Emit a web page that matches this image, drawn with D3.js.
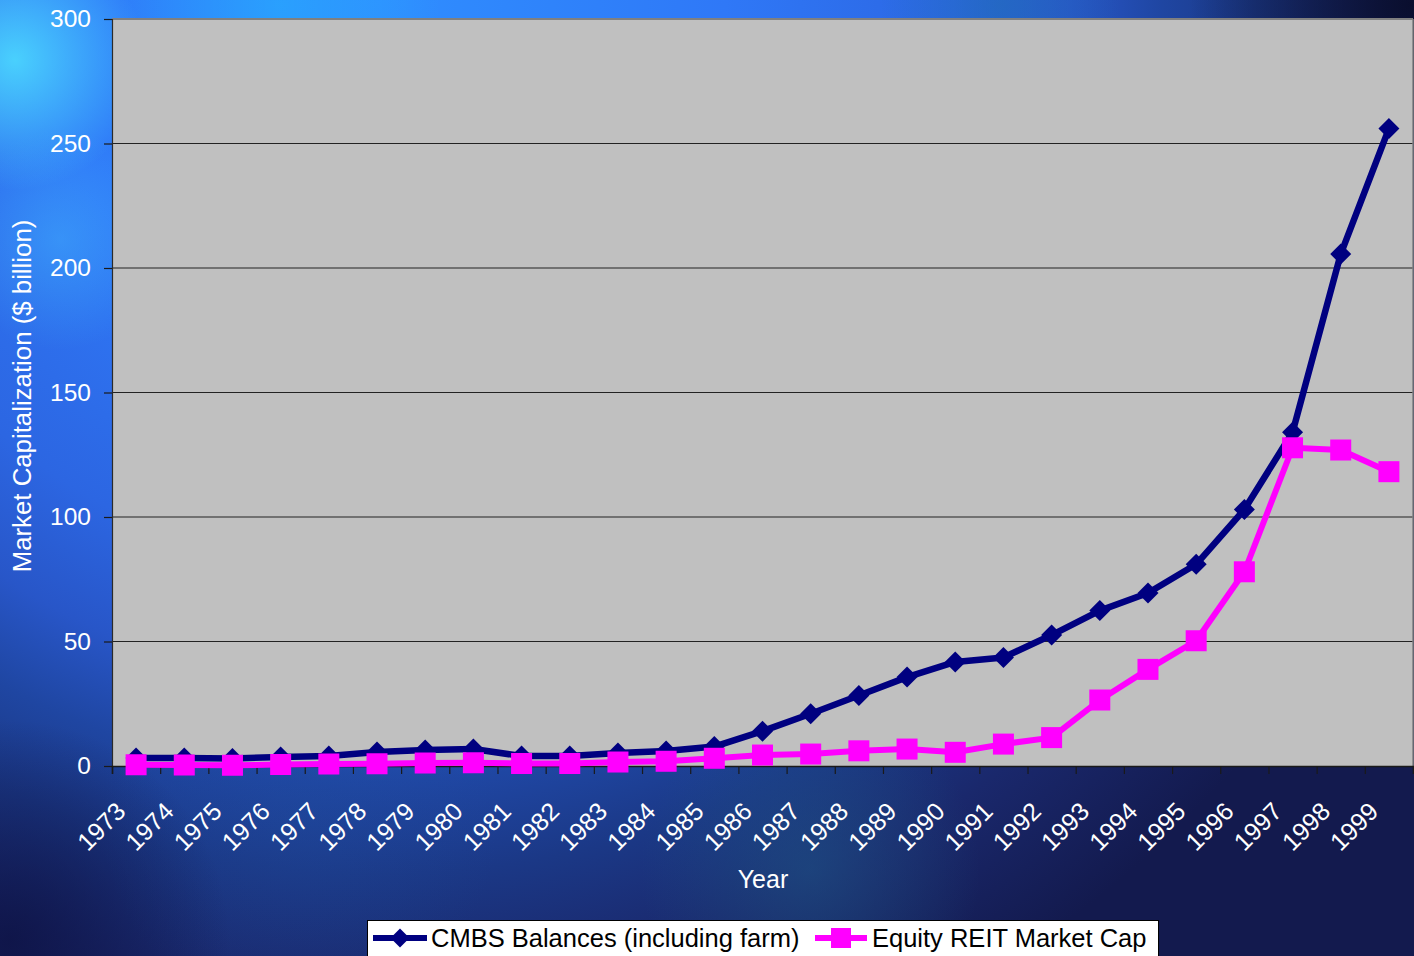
<!DOCTYPE html>
<html>
<head>
<meta charset="utf-8">
<script src="https://cdn.jsdelivr.net/npm/d3@7"></script>
<style>
  html, body { margin: 0; padding: 0; background: #10164a; }
  svg { display: block; }
  text { font-family: "Liberation Sans", Arial, sans-serif; }
</style>
</head>
<body>
<svg id="chart" width="1414" height="956"></svg>
<script>
// ---- data ----
const years = ["1973","1974","1975","1976","1977","1978","1979","1980","1981","1982","1983","1984","1985","1986","1987","1988","1989","1990","1991","1992","1993","1994","1995","1996","1997","1998","1999"];
const cmbs = [3.2, 3.2, 3.0, 3.6, 4.0, 5.6, 6.4, 6.8, 4.0, 4.0, 5.2, 6.0, 7.8, 14.0, 21.0, 28.3, 35.7, 41.8, 43.6, 52.6, 62.4, 69.5, 81.0, 103.0, 134.0, 205.6, 256.0];
const reit = [0.5, 0.4, 0.3, 0.6, 0.8, 0.9, 1.2, 1.3, 1.0, 1.0, 1.6, 1.9, 3.1, 4.4, 4.8, 6.1, 6.8, 5.5, 8.8, 11.4, 26.5, 38.8, 50.3, 78.0, 127.8, 126.9, 118.2];
const yTicks = [0, 50, 100, 150, 200, 250, 300];
const seriesNames = ["CMBS Balances (including farm)", "Equity REIT Market Cap"];
const yTitle = "Market Capitalization ($ billion)";
const xTitle = "Year";

// ---- layout ----
const W = 1414, H = 956;
const plot = { left: 112, right: 1413, top: 19, bottom: 766 };
const svg = d3.select("#chart");

// ---- background ----
const defs = svg.append("defs");
const bg = defs.append("radialGradient").attr("id", "bgMain")
  .attr("gradientUnits", "userSpaceOnUse").attr("cx", 380).attr("cy", 0).attr("r", 1150);
[[0, "#2f8eff"], [0.3, "#2f78f7"], [0.5, "#2c66e2"], [0.6, "#2856c8"], [0.68, "#1f46a2"], [0.76, "#1b3886"], [0.86, "#1a286c"], [1, "#131a4e"]]
  .forEach(([o, c]) => bg.append("stop").attr("offset", o).attr("stop-color", c));
svg.append("rect").attr("width", W).attr("height", H).attr("fill", "url(#bgMain)");

function glow(id, cx, cy, r, color, op) {
  const g = defs.append("radialGradient").attr("id", id)
    .attr("gradientUnits", "userSpaceOnUse").attr("cx", cx).attr("cy", cy).attr("r", r);
  g.append("stop").attr("offset", 0).attr("stop-color", color).attr("stop-opacity", op);
  g.append("stop").attr("offset", 1).attr("stop-color", color).attr("stop-opacity", 0);
  svg.append("rect").attr("width", W).attr("height", H).attr("fill", `url(#${id})`);
}
glow("g1", 15, 60, 130, "#4ee0ff", 0.85);
glow("g2", 60, 240, 110, "#45c0ff", 0.4);
glow("g3", 280, 5, 160, "#26b0ff", 0.6);
glow("g4", 810, 870, 170, "#1f5a88", 0.5);
glow("g5", 300, 820, 200, "#2050a0", 0.25);
glow("g6", 1000, 5, 120, "#1e70b0", 0.5);
glow("g7", 1410, 5, 220, "#080c28", 0.9);
glow("g8", 10, 940, 220, "#0c1040", 0.75);

// ---- scales ----
const x = d3.scaleBand().domain(years).range([plot.left, plot.right]).padding(0);
const xi = d3.scaleLinear().domain([0, years.length]).range([plot.left, plot.right]);
const y = d3.scaleLinear().domain([0, 300]).range([plot.bottom, plot.top]);
const cx = d => x(d) + x.bandwidth() / 2;

// ---- plot area ----
svg.append("rect").attr("x", plot.left).attr("y", plot.top)
  .attr("width", plot.right - plot.left).attr("height", plot.bottom - plot.top)
  .attr("fill", "#c0c0c0");

// gridlines
svg.append("g").selectAll("line").data(yTicks.filter(t => t > 0 && t < 300)).join("line")
  .attr("x1", plot.left).attr("x2", plot.right)
  .attr("y1", d => y(d)).attr("y2", d => y(d))
  .attr("stroke", "#222").attr("stroke-width", 1.2);
// top & right border
svg.append("line").attr("x1", plot.left).attr("x2", plot.right).attr("y1", plot.top).attr("y2", plot.top)
  .attr("stroke", "#808080").attr("stroke-width", 2);
svg.append("line").attr("x1", plot.right).attr("x2", plot.right).attr("y1", plot.top).attr("y2", plot.bottom)
  .attr("stroke", "#808080").attr("stroke-width", 1.5);

// y axis
const yAxis = svg.append("g").attr("transform", `translate(${plot.left},0)`)
  .call(d3.axisLeft(y).tickValues(yTicks).tickSize(8).tickPadding(13).tickFormat(d3.format("d")));
yAxis.select(".domain").attr("stroke", "#2a2a2a").attr("stroke-width", 1.2);
yAxis.selectAll(".tick line").attr("stroke", "#1a1a1a").attr("stroke-width", 1.2);
yAxis.selectAll(".tick text").attr("fill", "#ffffff").attr("font-size", "24.5px")
  .attr("font-family", "Liberation Sans, Arial, sans-serif");

// x axis ticks at category boundaries
const xAxisTicks = svg.append("g").attr("transform", `translate(0,${plot.bottom})`)
  .call(d3.axisBottom(xi).tickValues(d3.range(0, years.length + 1)).tickSize(8).tickFormat(""));
xAxisTicks.select(".domain").attr("stroke", "#1a1a1a").attr("stroke-width", 1.5);
xAxisTicks.selectAll(".tick line").attr("stroke", "#1a1a1a").attr("stroke-width", 1.2);

// x labels via band axis
const xAxisLabels = svg.append("g").attr("transform", `translate(0,${plot.bottom})`)
  .call(d3.axisBottom(x).tickSize(0).tickPadding(0));
xAxisLabels.select(".domain").remove();
xAxisLabels.selectAll(".tick text")
  .attr("fill", "#ffffff").attr("font-size", "25px")
  .attr("font-family", "Liberation Sans, Arial, sans-serif")
  .attr("text-anchor", "end").attr("dy", null).attr("y", null)
  .attr("transform", "translate(-9,47) rotate(-45)");

// axis titles
svg.append("text").attr("x", 763).attr("y", 888).attr("text-anchor", "middle")
  .attr("fill", "#fff").attr("font-size", "25px").text(xTitle);
svg.append("text").attr("transform", "translate(31,396) rotate(-90)").attr("text-anchor", "middle")
  .attr("fill", "#fff").attr("font-size", "25.8px").text(yTitle);

// ---- series ----
const navy = "#000080", magenta = "#ff00ff";
const line = d3.line().x((d, i) => cx(years[i])).y(d => y(d));
const diamond = (s) => `M0,${-s}L${s},0L0,${s}L${-s},0Z`;

svg.append("path").datum(cmbs).attr("d", line).attr("fill", "none")
  .attr("stroke", navy).attr("stroke-width", 6.5).attr("stroke-linejoin", "round");
svg.append("g").selectAll("path").data(cmbs).join("path")
  .attr("transform", (d, i) => `translate(${cx(years[i])},${y(d)})`)
  .attr("d", diamond(10.5)).attr("fill", navy);

svg.append("path").datum(reit).attr("d", line).attr("fill", "none")
  .attr("stroke", magenta).attr("stroke-width", 6).attr("stroke-linejoin", "round");
svg.append("g").selectAll("rect").data(reit).join("rect")
  .attr("x", (d, i) => cx(years[i]) - 10.5).attr("y", d => y(d) - 10.5)
  .attr("width", 21).attr("height", 21).attr("fill", magenta);

// ---- legend ----
const lg = svg.append("g");
lg.append("rect").attr("x", 367.5).attr("y", 920.5).attr("width", 791).attr("height", 50)
  .attr("fill", "#ffffff").attr("stroke", "#000").attr("stroke-width", 1);
const ly = 938;
lg.append("line").attr("x1", 373).attr("x2", 427).attr("y1", ly).attr("y2", ly)
  .attr("stroke", navy).attr("stroke-width", 6);
lg.append("path").attr("transform", `translate(400,${ly})`).attr("d", diamond(9.5)).attr("fill", navy);
lg.append("text").attr("x", 431).attr("y", ly + 9).attr("font-size", "25.5px").attr("fill", "#000").text(seriesNames[0]);
lg.append("line").attr("x1", 815).attr("x2", 867).attr("y1", ly).attr("y2", ly)
  .attr("stroke", magenta).attr("stroke-width", 6);
lg.append("rect").attr("x", 831).attr("y", ly - 10).attr("width", 20).attr("height", 20).attr("fill", magenta);
lg.append("text").attr("x", 872).attr("y", ly + 9).attr("font-size", "25.5px").attr("fill", "#000").text(seriesNames[1]);
</script>
</body>
</html>
